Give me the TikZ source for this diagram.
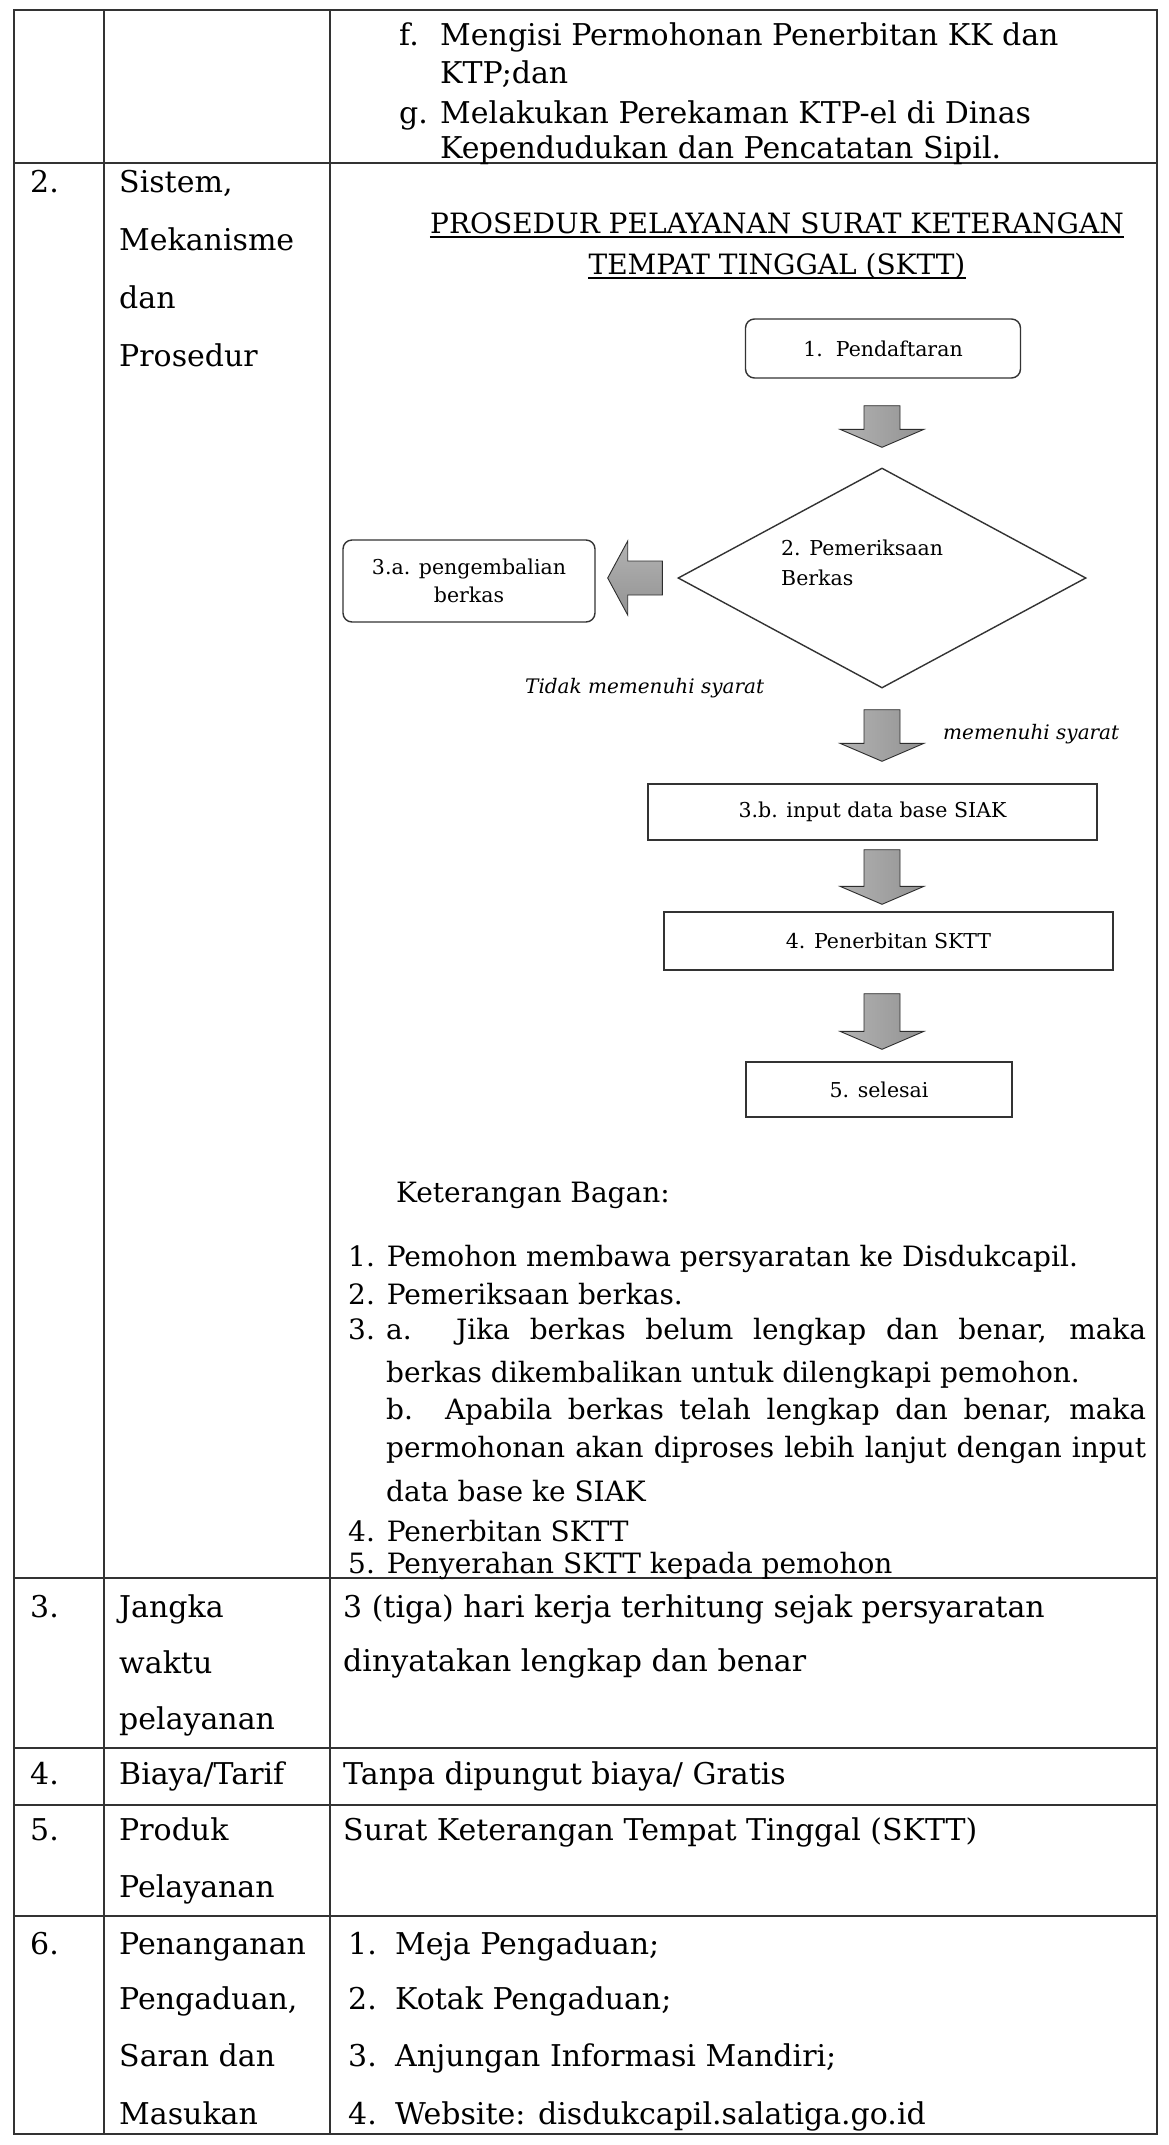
\documentclass[tikz,border=0pt]{standalone}
\usepackage{fontspec}
\setmainfont{DejaVu Serif}
\usetikzlibrary{shapes.geometric,calc}

% block arrow pointing down: #1 top of shaft, #2 tip
\newcommand\blockdown[2]{%
  \draw[blockarrow] let \p1=#1, \p2=#2 in
    (\x1-18pt,\y1) -- (\x1+18pt,\y1) -- (\x1+18pt,\y2+18pt) -- (\x1+42pt,\y2+18pt)
    -- (\x1,\y2) -- (\x1-42pt,\y2+18pt) -- (\x1-18pt,\y2+18pt) -- cycle;}
% block arrow pointing left: #1 tail of shaft, #2 tip
\newcommand\blockleft[2]{%
  \draw[blockarrowh] let \p1=#1, \p2=#2 in
    (\x1,\y1-17pt) -- (\x1,\y1+17pt) -- (\x2+20pt,\y1+17pt) -- (\x2+20pt,\y1+37pt)
    -- (\x2,\y1) -- (\x2+20pt,\y1-37pt) -- (\x2+20pt,\y1-17pt) -- cycle;}

\begin{document}
\begin{tikzpicture}[x=1pt,y=-1pt,
  grid/.style={line width=1.6pt, draw=black!80},
  body/.style={anchor=base west, inner sep=0pt, font=\fontsize{30}{36}\selectfont},
  legend/.style={anchor=base west, inner sep=0pt, font=\fontsize{28}{34}\selectfont},
  small/.style={font=\fontsize{20.5}{28}\selectfont},
  flowbox/.style={draw=black!80, line width=1.4pt, small, align=center, inner sep=0pt},
  roundbox/.style={flowbox, rounded corners=9pt},
  note/.style={anchor=base west, inner sep=0pt, font=\fontsize{20}{24}\selectfont\itshape},
  titletext/.style={anchor=base, inner sep=0pt, font=\fontsize{28}{34}\selectfont},
  blockarrow/.style={draw=gray!35!black, line width=0.9pt, left color=gray!60, middle color=gray!35, right color=gray!85},
  blockarrowh/.style={draw=gray!35!black, line width=0.9pt, top color=gray!60, middle color=gray!35, bottom color=gray!85},
]
\fill[white] (0,0) rectangle (1169,2145);
\useasboundingbox (0,0) rectangle (1169,2145);

% ---- table rules ----
\draw[grid] (14,10) rectangle (1157,2134);
\draw[grid] (104,10) -- (104,2134);
\draw[grid] (330,10) -- (330,2134);
\foreach \yy in {163,1578,1748,1805,1916}
  \draw[grid] (14,\yy) -- (1157,\yy);

% ---- row 1 (continued list) ----
\node[body] (r1f) at (399,45) {f.};
\node[body] (r1fa) at (440,45) {Mengisi Permohonan Penerbitan KK dan};
\node[body] (r1fb) at (440,83) {KTP;dan};
\node[body] (r1g) at (399,123) {g.};
\node[body] (r1ga) at (440,123) {Melakukan Perekaman KTP-el di Dinas};
\node[body] (r1gb) at (440,158) {Kependudukan dan Pencatatan Sipil.};

% ---- row 2 ----
\node[body] (n2) at (30,192) {2.};
\node[body] (h2a) at (119,192) {Sistem,};
\node[body] (h2b) at (119,250) {Mekanisme};
\node[body] (h2c) at (119,308) {dan};
\node[body] (h2d) at (119,366) {Prosedur};

\node[titletext] (t1) at (777,233) {PROSEDUR PELAYANAN SURAT KETERANGAN};
\node[titletext] (t2) at (777,274) {TEMPAT TINGGAL (SKTT)};
\draw[line width=1.3pt] ($(t1.base west)+(0,4)$) -- ($(t1.base east)+(0,4)$);
\draw[line width=1.3pt] ($(t2.base west)+(0,4)$) -- ($(t2.base east)+(0,4)$);

% flowchart
\node[roundbox, minimum width=275, minimum height=59] (b1) at (883,348.5) {1.\ \ Pendaftaran};
\node[diamond, draw=black!80, line width=1.4pt, minimum width=408, minimum height=220,
      aspect=1.85, inner sep=0pt] (dia) at (882,578) {};
\node[small, anchor=base west, inner sep=0pt] (dtx1) at (781,555) {2. Pemeriksaan};
\node[small, anchor=base west, inner sep=0pt] (dtx2) at (781,585) {Berkas};
\node[roundbox, minimum width=252, minimum height=82] (b3a) at (469,581) {3.a. pengembalian\\berkas};
\node[note] (nt) at (525,693) {Tidak memenuhi syarat};
\node[note] (ny) at (943,739) {memenuhi syarat};
\node[flowbox, minimum width=449, minimum height=56] (b3b) at (872.5,812) {3.b. input data base SIAK};
\node[flowbox, minimum width=449, minimum height=58] (b4) at (888.5,941) {4. Penerbitan SKTT};
\node[flowbox, minimum width=266, minimum height=55] (b5) at (879,1089.5) {5. selesai};

\blockdown{($(b1.south -| dia.north)+(0,27)$)}{($(dia.north)+(0,-20)$)}
\blockleft{($(dia.west)+(-15,0)$)}{($(b3a.east)+(12,0)$)}
\blockdown{($(dia.south)+(0,21)$)}{($(b3b.north -| dia.south)+(0,-22)$)}
\blockdown{($(b3b.south -| dia.south)+(0,9)$)}{($(b4.north -| dia.south)+(0,-7)$)}
\blockdown{($(b4.south -| dia.south)+(0,23)$)}{($(b5.north -| dia.south)+(0,-12)$)}

% legend
\node[legend] (lk) at (396,1202) {Keterangan Bagan:};
\node[legend] (l1) at (348,1266) {1. Pemohon membawa persyaratan ke Disdukcapil.};
\node[legend] (l2) at (348,1304) {2. Pemeriksaan berkas.};
\node[legend] (l3) at (348,1339) {3.};
\node[legend] (l3a) at (386,1339) {\makebox[760pt][s]{a. Jika berkas belum lengkap dan benar, maka}};
\node[legend] (l3a2) at (386,1382) {berkas dikembalikan untuk dilengkapi pemohon.};
\node[legend] (l3b) at (386,1419) {\makebox[760pt][s]{b. Apabila berkas telah lengkap dan benar, maka}};
\node[legend] (l3b2) at (386,1457) {\makebox[760pt][s]{permohonan akan diproses lebih lanjut dengan input}};
\node[legend] (l3b3) at (386,1501) {data base ke SIAK};
\node[legend] (l4) at (348,1541) {4. Penerbitan SKTT};
\node[legend] (l5) at (348,1573) {5. Penyerahan SKTT kepada pemohon};

% ---- row 3 ----
\node[body] (n3) at (30,1617) {3.};
\node[body] (h3a) at (119,1617) {Jangka};
\node[body] (h3b) at (119,1673) {waktu};
\node[body] (h3c) at (119,1729) {pelayanan};
\node[body] (c3a) at (343,1617) {3 (tiga) hari kerja terhitung sejak persyaratan};
\node[body] (c3b) at (343,1671) {dinyatakan lengkap dan benar};

% ---- row 4 ----
\node[body] (n4) at (30,1784) {4.};
\node[body] (h4) at (119,1784) {Biaya/Tarif};
\node[body] (c4) at (343,1784) {Tanpa dipungut biaya/ Gratis};

% ---- row 5 ----
\node[body] (n5) at (30,1840) {5.};
\node[body] (h5a) at (119,1840) {Produk};
\node[body] (h5b) at (119,1897) {Pelayanan};
\node[body] (c5) at (343,1840) {Surat Keterangan Tempat Tinggal (SKTT)};

% ---- row 6 ----
\node[body] (n6) at (30,1954) {6.};
\node[body] (h6a) at (119,1954) {Penanganan};
\node[body] (h6b) at (119,2009) {Pengaduan,};
\node[body] (h6c) at (119,2066) {Saran dan};
\node[body] (h6d) at (119,2124) {Masukan};
\node[body] (c6an) at (348,1954) {1.};
\node[body] (c6a) at (395,1954) {Meja Pengaduan;};
\node[body] (c6bn) at (348,2009) {2.};
\node[body] (c6b) at (395,2009) {Kotak Pengaduan;};
\node[body] (c6cn) at (348,2066) {3.};
\node[body] (c6c) at (395,2066) {Anjungan Informasi Mandiri;};
\node[body] (c6dn) at (348,2124) {4.};
\node[body] (c6d) at (395,2124) {Website: disdukcapil.salatiga.go.id};
\end{tikzpicture}
\end{document}
